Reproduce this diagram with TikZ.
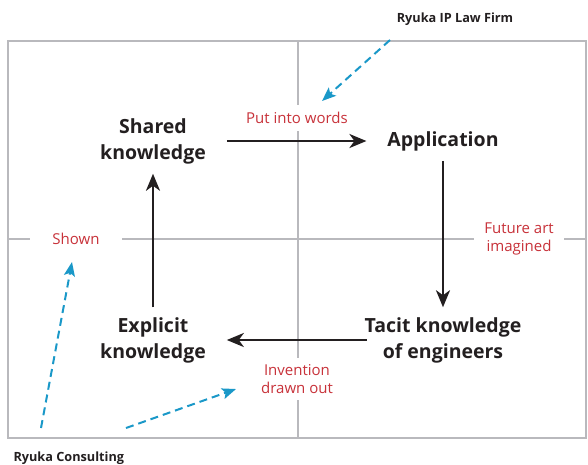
\documentclass[tikz,border=0pt]{standalone}
\usepackage{fontspec}
\setmainfont{Open Sans}
\usetikzlibrary{positioning, arrows.meta}
\definecolor{gridgray}{HTML}{B9B9BD}
\definecolor{inkblack}{HTML}{231F20}
\definecolor{notered}{HTML}{C8323A}
\definecolor{hintblue}{HTML}{1A98C8}
\tikzset{
    stage/.style={
        font=\bfseries\fontsize{19.5}{26}\selectfont,
        text=inkblack,
        align=center,
        inner sep=0pt,
        outer xsep=21pt,
        outer ysep=10pt
    },
    note/.style={
        font=\fontsize{15}{17.5}\selectfont,
        text=notered,
        align=center,
        fill=white
    },
    firm/.style={
        font=\bfseries\fontsize{12.7}{15}\selectfont,
        text=inkblack
    },
    flow/.style={draw=inkblack, line width=2.5pt, -{Stealth[length=17pt,width=14pt,inset=5pt]}},
    hint/.style={draw=hintblue, line width=2pt, dash pattern=on 8pt off 5pt, -{Stealth[length=14pt,width=11pt,inset=3pt]}}
}

\begin{document}
\begin{tikzpicture}[x=1pt,y=-1pt]
	\useasboundingbox (0,0) rectangle (588,464);
	% frame and cross
	\draw[gridgray, line width=2pt] (8,41) rectangle (586,438);
	\draw[gridgray, line width=2pt] (298,41) -- (298,438);
	\draw[gridgray, line width=2pt] (8,239) -- (586,239);

	% the four stages
	\node[stage] at (153,141) (shared) {Shared\\knowledge};
	\node[stage] at (443,141) (app) {Application};
	\node[stage, outer xsep=-2pt] at (443,340) (tacit) {Tacit knowledge\\of engineers};
	\node[stage] at (153,340) (explicit) {Explicit\\knowledge};

	% red notes sit on the grey lines
	\node[note, inner xsep=6pt, inner ysep=7pt] at (297,118) (words) {Put into words};
	\node[note, inner xsep=22pt, inner ysep=4pt] at (76,239) (shown) {Shown};
	\node[note, inner xsep=10pt, inner ysep=2pt] at (519,239) (future) {Future art\\imagined};
	\node[note, inner xsep=6pt, inner ysep=7pt] at (297,379) (invention) {Invention\\drawn out};

	\node[firm] at (455,19) (ipfirm) {Ryuka IP Law Firm};
	\node[firm, anchor=west] at (10,458) (consult) {Ryuka Consulting};

	\draw
	(shared) edge[flow] (app)
	(app) edge[flow] (tacit)
	(tacit) edge[flow] (explicit)
	(explicit) edge[flow] (shared);

	% pointers from the firms
	\coordinate (ipstart) at (390,40);
	\coordinate (ipend) at (322,101);
	\coordinate (shownstart) at (41,428);
	\coordinate (shownend) at (72,262);
	\coordinate (inventstart) at (126,428);
	\coordinate (inventend) at (236,389);
	\draw[hint] (ipstart) -- (ipend);
	\draw[hint] (shownstart) -- (shownend);
	\draw[hint] (inventstart) -- (inventend);
\end{tikzpicture}
\end{document}
